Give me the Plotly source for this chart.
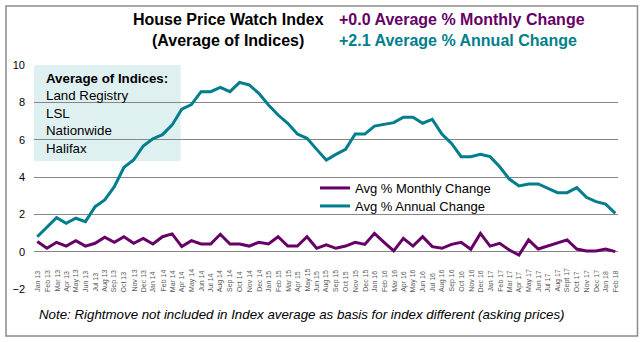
import plotly.graph_objects as go

months = ["Jan 13", "Feb 13", "Mar 13", "Apr 13", "May 13", "Jun 13", "Jul 13", "Aug 13",
          "Sep 13", "Oct 13", "Nov 13", "Dec 13", "Jan 14", "Feb 14", "Mar 14", "Apr 14",
          "May 14", "Jun 14", "Jul 14", "Aug 14", "Sep 14", "Oct 14", "Nov 14", "Dec 14",
          "Jan 15", "Feb 15", "Mar 15", "Apr 15", "May 15", "Jun 15", "Aug 15", "Sep 15",
          "Oct 15", "Nov 15", "Dec 15", "Jan 16", "Feb 16", "Mar 16", "Apr 16", "May 16",
          "Jun 16", "Jul 16", "Aug 16", "Sep 16", "Oct 16", "Nov 16", "Dec 16", "Jan 17",
          "Feb 17", "Mar 17", "Apr 17", "May 17", "Jun 17", "Jul 17", "Aug 17", "Sept 17",
          "Oct 17", "Nov 17", "Dec 17", "Jan 18", "Feb 18"]

monthly_change = [0.54, 0.18, 0.50, 0.30, 0.59, 0.30, 0.45, 0.77, 0.50, 0.80,
                  0.45, 0.71, 0.41, 0.80, 0.95, 0.27, 0.59, 0.41, 0.41, 0.93,
                  0.41, 0.41, 0.30, 0.50, 0.41, 0.80, 0.30, 0.30, 0.80, 0.18,
                  0.36, 0.18, 0.30, 0.50, 0.39, 0.98, 0.50, 0.04, 0.71, 0.30,
                  0.80, 0.27, 0.18, 0.39, 0.50, 0.13, 0.98, 0.30, 0.45, 0.09,
                  -0.18, 0.63, 0.14, 0.30, 0.50, 0.63, 0.14, 0.04, 0.04, 0.14,
                  0.00]

annual_change = [0.80, 1.30, 1.82, 1.52, 1.79, 1.61, 2.41, 2.77, 3.48, 4.52,
                 4.91, 5.66, 6.05, 6.27, 6.79, 7.63, 7.88, 8.57, 8.57, 8.80,
                 8.57, 9.07, 8.93, 8.48, 7.86, 7.32, 6.88, 6.30, 6.07, 5.48,
                 4.91, 5.21, 5.48, 6.30, 6.30, 6.73, 6.84, 6.91, 7.20, 7.20,
                 6.88, 7.09, 6.30, 5.80, 5.09, 5.09, 5.21, 5.09, 4.55, 3.89,
                 3.52, 3.63, 3.63, 3.39, 3.16, 3.16, 3.43, 2.91, 2.68, 2.55,
                 2.05]

y_ticks = [-2, 0, 2, 4, 6, 8, 10]
grid_ticks = [0, 2, 4, 6, 8, 10]

index_list = ["Land Registry", "LSL", "Nationwide", "Halifax"]

PURPLE = "#660066"
TEAL = "#007E8C"
GRID = "#878787"
FONT = "Arial, Liberation Sans, sans-serif"

fig = go.Figure()
fig.add_trace(go.Scatter(x=months, y=monthly_change, mode="lines", name="Avg % Monthly Change",
                         line=dict(color=PURPLE, width=3), yaxis="y2", legend="legend"))
fig.add_trace(go.Scatter(x=months, y=annual_change, mode="lines", name="Avg % Annual Change",
                         line=dict(color=TEAL, width=3), yaxis="y2", legend="legend2"))

annotations = []
# month labels, rotated, sitting at the bottom of the plot
for m in months:
    annotations.append(dict(x=m, y=-2, xref="x", yref="y", text=m, textangle=-90,
                            showarrow=False, yanchor="bottom", yshift=-5,
                            font=dict(family=FONT, size=7, color="#595959")))

# header
annotations += [
    dict(x=228, y=19, xref="paper", yref="paper", text="<b>House Price Watch Index</b>"),
    dict(x=228, y=40, text="<b>(Average of Indices)</b>"),
    dict(x=337, y=19, text="<b>+0.0 Average % Monthly Change</b>", color=PURPLE, left=True),
    dict(x=337, y=40, text="<b>+2.1 Average % Annual Change</b>", color=TEAL, left=True),
]

W, H = 643, 342
ML, MR, MT, MB = 34, 25, 65, 53
PW, PH = W - ML - MR, H - MT - MB


def px(x):
    return (x - ML) / PW


def py(y):
    return (H - MB - y) / PH


final = []
for a in annotations:
    if a.get("xref") == "x":
        final.append(a)
        continue
    final.append(dict(x=px(a["x"]), y=py(a["y"]), xref="paper", yref="paper", text=a["text"],
                      showarrow=False, xanchor="left" if a.get("left") else "center",
                      yanchor="middle",
                      font=dict(family=FONT, size=16, color=a.get("color", "#000000"))))

# box text
box_lines = ["<b>Average of Indices:</b>"] + index_list
box_y = [78, 95.5, 113, 130.5, 148.5]
for t, yy in zip(box_lines, box_y):
    final.append(dict(x=px(44), y=py(yy), xref="paper", yref="paper", text=t, showarrow=False,
                      xanchor="left", yanchor="middle",
                      font=dict(family=FONT, size=13.3, color="#000000")))

# note
final.append(dict(x=px(302), y=py(314), xref="paper", yref="paper",
                  text="<i>Note: Rightmove not included in Index average as basis for index different (asking prices)</i>",
                  showarrow=False, xanchor="center", yanchor="middle",
                  font=dict(family=FONT, size=13.3, color="#000000")))

shapes = [
    dict(type="rect", xref="paper", yref="paper", x0=px(34), x1=px(180.7), y0=py(161), y1=py(65),
         fillcolor="#DFF0F1", line=dict(width=0), layer="below"),
    dict(type="rect", xref="paper", yref="paper", x0=px(6), x1=px(637.5), y0=py(336), y1=py(6),
         fillcolor="rgba(0,0,0,0)", line=dict(color="#8C8C8C", width=1.5), layer="below"),
]

legend_style = dict(xanchor="left", yanchor="top", bgcolor="rgba(0,0,0,0)", borderwidth=0,
                    font=dict(family=FONT, size=13, color="#000000"), itemwidth=30)

fig.update_layout(
    width=W, height=H,
    margin=dict(l=ML, r=MR, t=MT, b=MB, pad=0),
    paper_bgcolor="white", plot_bgcolor="white",
    font=dict(family=FONT, color="#000000"),
    showlegend=True,
    legend=dict(x=px(315), y=py(173), **legend_style),
    legend2=dict(x=px(315), y=py(191), **legend_style),
    xaxis=dict(range=[-0.34, 60.28], showticklabels=False, showgrid=False, zeroline=False,
               showline=False, ticks=""),
    yaxis=dict(range=[-2, 10], tickvals=grid_ticks, showticklabels=False, showgrid=True,
               gridcolor=GRID, gridwidth=1, zeroline=False, showline=False, ticks=""),
    yaxis2=dict(range=[-2, 10], overlaying="y", side="left", tickvals=y_ticks,
                showgrid=False, zeroline=False, showline=False, ticks="",
                tickfont=dict(family=FONT, size=11, color="#000000"), ticklabelstandoff=8),
    annotations=final,
    shapes=shapes,
)

fig.write_html("out.html")
